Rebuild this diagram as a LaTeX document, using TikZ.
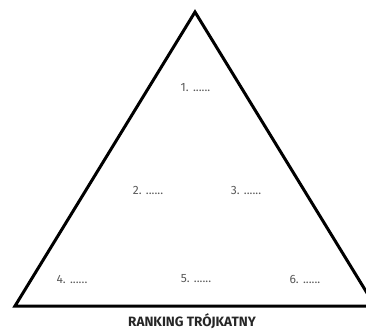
\documentclass[tikz,border=0pt]{standalone}
\usepackage{fontspec}
\setmainfont{Fira Sans}
\begin{document}
\begin{tikzpicture}[x=1pt,y=-1pt,
  lbl/.style={text=black!65, font=\fontsize{12}{14}\selectfont, inner sep=0pt},
  ttl/.style={text=black!85, font=\bfseries\fontsize{13.5}{15}\selectfont, inner sep=0pt}]
\useasboundingbox (0,0) rectangle (366,330);
\begin{scope}
\clip (0,0) rectangle (366,330);
\coordinate (apex) at (195,12);
\coordinate (bl) at (15,306);
\coordinate (br) at (375,306);
\draw[line width=3pt, line join=miter] (apex) -- (bl) -- (br) -- cycle;
\end{scope}
\node[lbl] (n1) at (195.5,88) {1. ......};
\node[lbl] (n2) at (148,190) {2. ......};
\node[lbl] (n3) at (246,190) {3. ......};
\node[lbl] (n4) at (72,279) {4. ......};
\node[lbl] (n5) at (196,279) {5. ......};
\node[lbl] (n6) at (305,279) {6. ......};
\node[ttl] (title) at (192,321) {RANKING TRÓJKATNY};
\end{tikzpicture}
\end{document}
